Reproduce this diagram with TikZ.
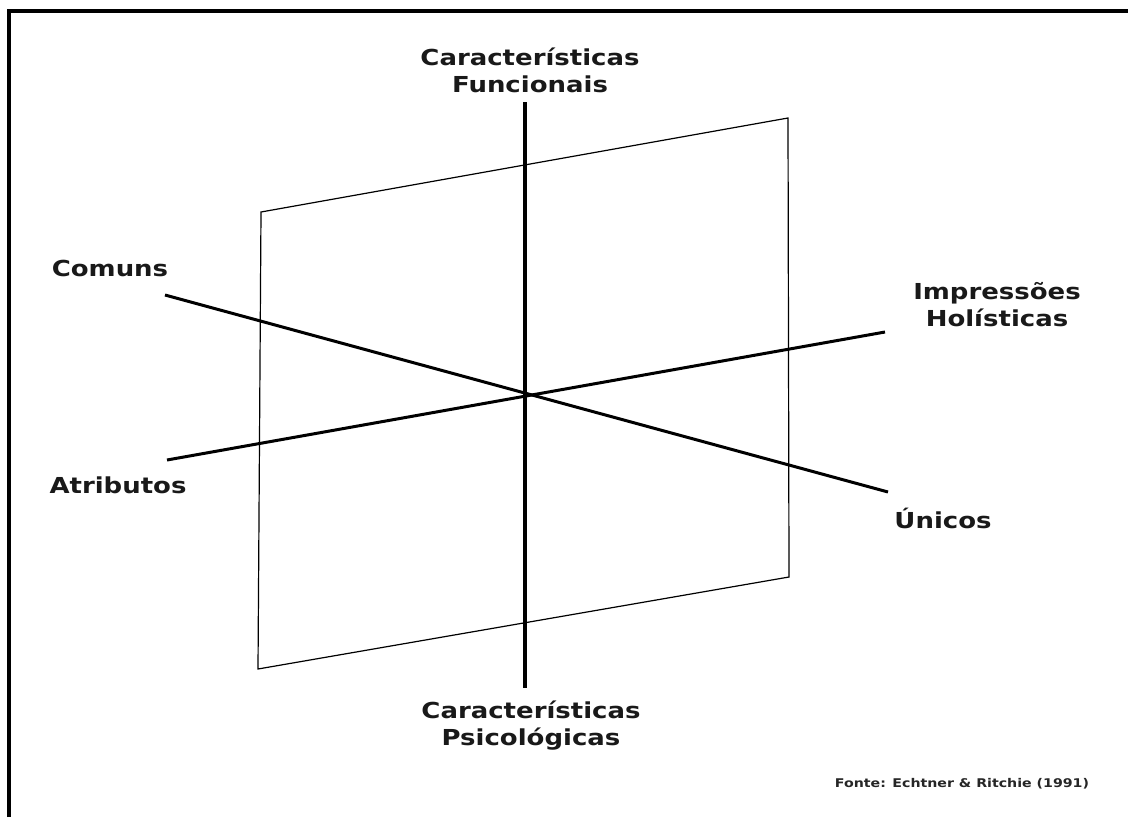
\documentclass[tikz,border=0pt]{standalone}
\usepackage{fontspec}
\setmainfont{DejaVu Sans}
\newfontfamily\wfont{DejaVu Sans}[FakeStretch=1.18]
\begin{document}
\begin{tikzpicture}[x=1pt,y=-1pt,
  lbl/.style={font=\wfont\bfseries\fontsize{22}{27}\selectfont, text=black!90, align=center, inner sep=0pt},
  src/.style={font=\wfont\bfseries\fontsize{12}{15}\selectfont, text=black!85, inner sep=0pt},
  axisv/.style={line width=4pt},
  axisd/.style={line width=3pt},
  plane/.style={line width=1.2pt}]
\useasboundingbox (0,0) rectangle (1132,817);
\fill[white] (0,0) rectangle (1132,817);
% frame (top and left edges visible)
\draw[line width=4pt] (9,817) -- (9,11) -- (1128,11);
% plane
\coordinate (p1) at (261,212);
\coordinate (p2) at (788,118);
\coordinate (p3) at (789,577);
\coordinate (p4) at (258,669);
\draw[plane] (p1) -- (p2) -- (p3) -- (p4) -- cycle;
% axes
\coordinate (c) at (525,395);
\coordinate (vt) at (525,102);
\coordinate (vb) at (525,688);
\coordinate (cm) at (165,295);
\coordinate (un) at (888,492);
\coordinate (at) at (167,460);
\coordinate (im) at (885,332);
\draw[axisv] (vt) -- (vb);
\draw[axisd] (cm) -- (un);
\draw[axisd] (at) -- (im);
% labels
\node[lbl] (funcionais) at (530,70) {Características\\Funcionais};
\node[lbl] (psicologicas) at (531,726) {Características\\Psicológicas};
\node[lbl] (comuns) at (110,268) {Comuns};
\node[lbl] (atributos) at (118,485) {Atributos};
\node[lbl] (holisticas) at (997,305) {Impressões\\Holísticas};
\node[lbl] (unicos) at (943,518) {Únicos};
\node[src] (fonte) at (962,784) {Fonte: Echtner \& Ritchie (1991)};
\end{tikzpicture}
\end{document}
